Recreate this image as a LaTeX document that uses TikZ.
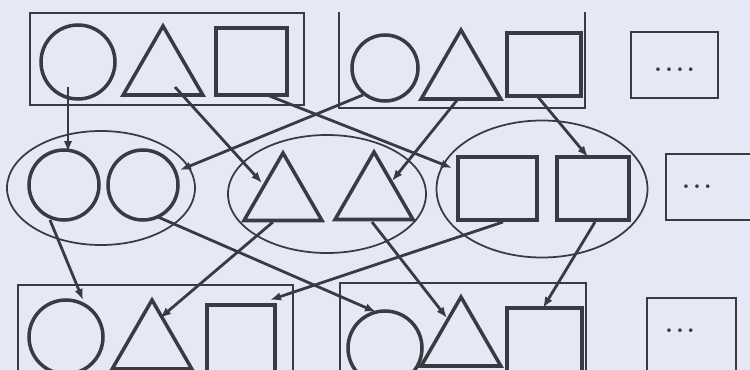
\documentclass[tikz,border=0pt]{standalone}
\usetikzlibrary{arrows.meta,shapes.geometric,calc}
\definecolor{ink}{RGB}{58,58,66}
\definecolor{paper}{RGB}{230,233,245}

\begin{document}
\begin{tikzpicture}[
  x=0.2mm, y=-0.2mm,
  fig/.style={draw=ink, line width=2pt, inner sep=0pt},
  circ/.style={fig, circle, minimum size=#1}, circ/.default=14mm,
  tri/.style={fig, regular polygon, regular polygon sides=3, minimum size=#1}, tri/.default=18.4mm,
  sq/.style={fig, rectangle},
  group/.style={draw=ink, line width=1.2pt, inner sep=0pt, rectangle},
  set/.style={draw=ink, line width=1pt, inner sep=0pt, ellipse},
  dots/.style={font=\Large\bfseries, text=ink},
  link/.style={->, draw=ink, line width=1.6pt},
  >={Latex[length=2.2mm, width=1.7mm]}
]
\fill[paper] (0,0) rectangle (750,370);
\useasboundingbox (0,0) rectangle (750,370);
\clip (0,0) rectangle (750,370);

\node[group, minimum width=54.8mm, minimum height=18.4mm] (box1) at (167,59) {};
\node[minimum width=49.2mm, minimum height=19.2mm, inner sep=0pt] (box2) at (462,60) {};
\draw[ink, line width=1.2pt] (box2.north west) |- (box2.south east) -- (box2.north east);
\node[group, minimum width=17.4mm, minimum height=13.2mm,
  label={[dots, yshift=-1mm]center:{.\kern.6mm.\kern.6mm.\kern.6mm.}}] (more1) at (674.5,65) {};

\node[circ=14.8mm] (c1) at (78,62) {};
\node[tri] (t1) at (163,72) {};
\node[sq, minimum width=14.2mm, minimum height=13.4mm] (s1) at (251.5,61.5) {};
\node[circ=13.2mm] (c2) at (385,68) {};
\node[tri] (t2) at (461,76) {};
\node[sq, minimum width=14.8mm, minimum height=12.6mm] (s2) at (544,64.5) {};

\node[set, minimum width=37.6mm, minimum height=22.8mm] (e1) at (101,188) {};
\node[set, minimum width=39.6mm, minimum height=23.6mm] (e2) at (327,194) {};
\node[set, minimum width=42.2mm, minimum height=27.4mm] (e3) at (542,189) {};
\node[circ] (ca) at (64,185) {};
\node[circ] (cb) at (143,185) {};
\node[tri=18mm] (ta) at (283,198) {};
\node[tri=18mm] (tb) at (374,197) {};
\node[sq, minimum width=15.8mm, minimum height=12.6mm] (sa) at (497.5,188.5) {};
\node[sq, minimum width=14.4mm, minimum height=12.6mm] (sb) at (593,188.5) {};
\node[group, minimum width=18.8mm, minimum height=13.2mm,
  label={[dots, xshift=-3.2mm]center:{.\kern.6mm.\kern.6mm.}}] (more2) at (713,187) {};

\node[group, minimum width=55mm, minimum height=20mm] (box3) at (155.5,335) {};
\node[group, minimum width=49.2mm, minimum height=20.4mm] (box4) at (463,334) {};
\node[group, minimum width=17.8mm, minimum height=17.4mm,
  label={[dots, xshift=-2.3mm, yshift=2.1mm]center:{.\kern.6mm.\kern.6mm.}}] (more3) at (691.5,341.5) {};
\node[circ=14.8mm] (cc) at (66,337) {};
\node[tri] (tc) at (152,346) {};
\node[sq, minimum width=13.6mm, minimum height=13.4mm] (sc) at (241,338.5) {};
\node[circ=14.8mm] (cd) at (385,348) {};
\node[tri] (td) at (461,343) {};
\node[sq, minimum width=15mm, minimum height=13.4mm] (sd) at (544.5,341.5) {};

\draw[link] ($(c1)+(-10,25)$) -- ($(ca)+(4,-33)$);
\draw[link] ($(t1)+(12,15)$) -- ($(ta)+(-21,-15)$);
\draw[link] ($(s1)+(15.5,33.5)$) -- ($(sa)+(-45.5,-20.5)$);
\draw[link] ($(c2)+(-22,27)$) -- ($(cb)+(37,-15)$);
\draw[link] ($(t2)+(-3,23)$) -- ($(tb)+(18,-16)$);
\draw[link] ($(s2)+(-6,32.5)$) -- ($(sb)+(-5,-31.5)$);

\draw[link] ($(ca)+(-14,35)$) -- ($(cc)+(17,-37)$);
\draw[link] ($(cb)+(15,32)$) -- ($(cd)+(-9,-36)$);
\draw[link] ($(ta)+(-10,24)$) -- ($(tc)+(8,-28)$);
\draw[link] ($(tb)+(-2,25)$) -- ($(td)+(-14,-25)$);
\draw[link] ($(sa)+(5.5,33.5)$) -- ($(sc)+(29,-38.5)$);
\draw[link] ($(sb)+(2,33.5)$) -- ($(sd)+(-1.5,-33.5)$);
\end{tikzpicture}
\end{document}
